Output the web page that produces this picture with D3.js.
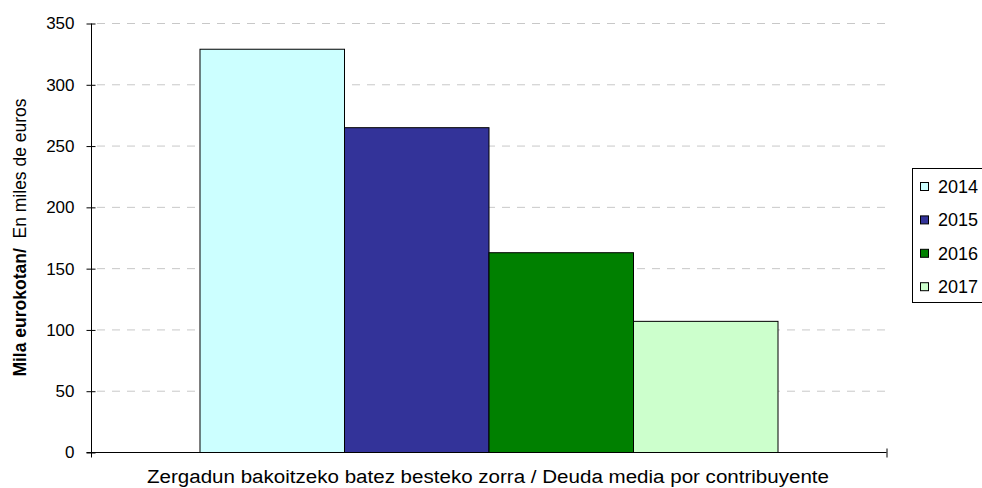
<!DOCTYPE html>
<html><head><meta charset="utf-8">
<script src="https://cdn.jsdelivr.net/npm/d3@7"></script>
<style>body{margin:0;background:#fff;overflow:hidden;} text{font-family:"Liberation Sans",Arial,sans-serif;}</style>
</head><body><svg id="c" width="982" height="488"></svg>
<script>
const categories = ["Zergadun bakoitzeko batez besteko zorra / Deuda media por contribuyente"];
const years = ["2014", "2015", "2016", "2017"];
const values = [329, 265, 163, 107];
const colors = ["#CCFFFF", "#333399", "#008000", "#CCFFCC"];
const yTicks = [0, 50, 100, 150, 200, 250, 300, 350];

const svg = d3.select("#c");
const L = 91, R = 886, T = 23, B = 452;

const y = d3.scaleLinear().domain([0, 350]).range([B, T]);
const x0 = d3.scaleBand().domain(categories).range([L, R]).paddingInner(0).paddingOuter(0.1877);
const x1 = d3.scaleBand().domain(years).range([0, x0.bandwidth()]).padding(0);

// gridlines
svg.append("g").selectAll("line").data(yTicks.filter(d => d > 0)).join("line")
  .attr("x1", L + 6).attr("x2", R).attr("y1", d => y(d) + 0.5).attr("y2", d => y(d) + 0.5)
  .attr("stroke", "#c8c8c8").attr("stroke-width", 1).attr("stroke-dasharray", "8,7");

// bars
svg.append("g").selectAll("rect").data(years).join("rect")
  .attr("x", (d) => x0(categories[0]) + x1(d) + 0.5)
  .attr("y", (d, i) => y(values[i]) + 0.5)
  .attr("width", x1.bandwidth())
  .attr("height", (d, i) => y(0) - y(values[i]))
  .attr("fill", (d, i) => colors[i])
  .attr("stroke", "#000").attr("stroke-width", 1);

// y axis
const yAxis = d3.axisLeft(y).tickValues(yTicks).tickSize(5).tickPadding(12).tickFormat(d3.format("d"));
const ga = svg.append("g").attr("transform", `translate(${L + 0.5},0.5)`).call(yAxis);
ga.select(".domain").attr("d", `M0,${T}V${B + 5}`).attr("stroke", "#000");
ga.selectAll(".tick line").attr("x1", 4).attr("stroke", "#000");
ga.selectAll("text").attr("font-size", 17).attr("fill", "#000").attr("font-family", "Liberation Sans, Arial, sans-serif");

// x axis
const xAxis = d3.axisBottom(d3.scaleLinear().domain([0, 1]).range([L, R])).tickValues([1]).tickSize(5).tickFormat("");
const gx = svg.append("g").attr("transform", `translate(0.5,${B + 0.5})`).call(xAxis);
gx.select(".domain").attr("d", `M${L - 5},0H${R}`).attr("stroke", "#000");
gx.selectAll(".tick line").attr("y1", -4).attr("stroke", "#000");

// x label
svg.append("text").attr("x", 488).attr("y", 483).attr("text-anchor", "middle")
  .attr("font-size", 18).attr("textLength", 682).attr("lengthAdjust", "spacingAndGlyphs")
  .attr("fill", "#000").text(categories[0]);

// y label
const yl = svg.append("text").attr("transform", `translate(26,${(T + B) / 2}) rotate(-90)`)
  .attr("text-anchor", "middle").attr("font-size", 17.5).attr("fill", "#000");
yl.append("tspan").attr("font-weight", "bold").text("Mila eurokotan/");
yl.append("tspan").text("\u00a0 En miles de euros");

// legend
const lg = svg.append("g");
lg.append("rect").attr("x", 912.5).attr("y", 168.5).attr("width", 100).attr("height", 134)
  .attr("fill", "#fff").attr("stroke", "#000");
const items = lg.selectAll("g.it").data(years).join("g").attr("class", "it")
  .attr("transform", (d, i) => `translate(920,${187 + i * 33.4})`);
items.append("rect").attr("x", 0.5).attr("y", -4.5).attr("width", 8).attr("height", 8)
  .attr("fill", (d, i) => colors[i]).attr("stroke", "#000");
items.append("text").attr("x", 18).attr("y", 6).attr("font-size", 18).attr("fill", "#000").text(d => d);
</script></body></html>
